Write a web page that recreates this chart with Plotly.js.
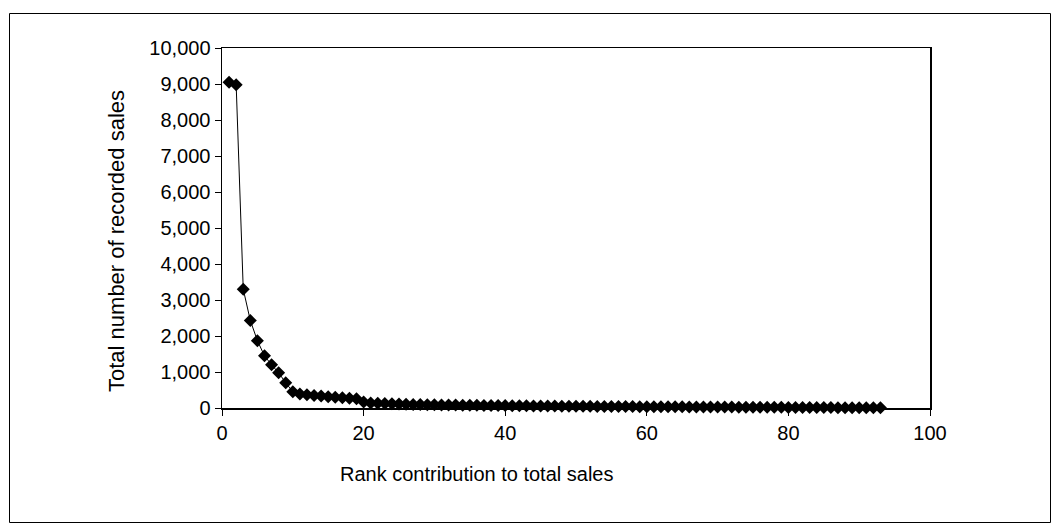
<!DOCTYPE html>
<html>
<head>
<meta charset="utf-8">
<script src="https://cdn.plot.ly/plotly-3.0.1.min.js"></script>
<style>
  html, body { margin: 0; padding: 0; background: #ffffff; }
  #chart { width: 1060px; height: 525px; }
</style>
</head>
<body>
<div id="chart"></div>
<script>
// Rank (1..93) of each item by contribution to total sales
const ranks = [
  1, 2, 3, 4, 5, 6, 7, 8, 9, 10,
  11, 12, 13, 14, 15, 16, 17, 18, 19, 20,
  21, 22, 23, 24, 25, 26, 27, 28, 29, 30,
  31, 32, 33, 34, 35, 36, 37, 38, 39, 40,
  41, 42, 43, 44, 45, 46, 47, 48, 49, 50,
  51, 52, 53, 54, 55, 56, 57, 58, 59, 60,
  61, 62, 63, 64, 65, 66, 67, 68, 69, 70,
  71, 72, 73, 74, 75, 76, 77, 78, 79, 80,
  81, 82, 83, 84, 85, 86, 87, 88, 89, 90,
  91, 92, 93
];
// Total number of recorded sales
const sales = [
  9050, 8980, 3300, 2430, 1870, 1450, 1200, 980, 700, 450,
  390, 370, 350, 330, 310, 300, 285, 270, 255, 170,
  140, 130, 122, 116, 110, 105, 100, 96, 92, 89,
  86, 83, 80, 78, 76, 74, 72, 70, 68, 66,
  64, 62, 60, 58, 56, 55, 53, 52, 50, 49,
  47, 46, 45, 44, 42, 41, 40, 39, 38, 37,
  36, 35, 34, 33, 32, 31, 30, 29, 28, 27,
  26, 25, 24, 23, 22, 21, 20, 19, 18, 17,
  16, 15, 14, 13, 12, 11, 10, 9, 8, 7,
  6, 5, 4
];
const xTitle = "Rank contribution to total sales";
const yTitle = "Total number of recorded sales";

const font = "Liberation Sans, Arial, sans-serif";

const trace = {
  x: ranks,
  y: sales,
  type: "scatter",
  mode: "lines+markers",
  line: { color: "#000000", width: 1 },
  marker: { symbol: "diamond", size: 10, color: "#000000" },
  cliponaxis: false,
  hoverinfo: "x+y"
};

const L = 222, R = 930, T = 48, B = 408;
const W = 1060, H = 525;
const pw = R - L, ph = B - T;
const px = (p) => (p - L) / pw;
const py = (p) => (B - p) / ph;

const layout = {
  width: W,
  height: H,
  margin: { l: L, r: W - R, t: T, b: H - B, pad: 0 },
  paper_bgcolor: "#ffffff",
  plot_bgcolor: "#ffffff",
  showlegend: false,
  font: { family: font, size: 20, color: "#000000" },
  xaxis: {
    range: [0, 100],
    tickvals: [0, 20, 40, 60, 80, 100],
    ticks: "outside",
    ticklen: 6,
    tickwidth: 1,
    tickcolor: "#000000",
    showline: true,
    linecolor: "#000000",
    linewidth: 1.5,
    mirror: true,
    showgrid: false,
    zeroline: false,
    tickfont: { family: font, size: 20, color: "#000000" }
  },
  yaxis: {
    range: [0, 10000],
    dtick: 1000,
    tick0: 0,
    tickformat: ",d",
    ticks: "outside",
    ticklen: 6,
    tickwidth: 1,
    tickcolor: "#000000",
    showline: true,
    linecolor: "#000000",
    linewidth: 1.5,
    mirror: true,
    showgrid: false,
    zeroline: false,
    tickfont: { family: font, size: 20, color: "#000000" }
  },
  annotations: [
    {
      text: xTitle, xref: "paper", yref: "paper",
      x: px(477), y: py(474), xanchor: "center", yanchor: "middle",
      showarrow: false, font: { family: font, size: 20, color: "#000000" }
    },
    {
      text: yTitle, xref: "paper", yref: "paper",
      x: px(116), y: py(241), xanchor: "center", yanchor: "middle",
      textangle: -90,
      showarrow: false, font: { family: font, size: 22, color: "#000000" }
    }
  ],
  shapes: [
    {
      type: "rect", xref: "paper", yref: "paper",
      x0: px(9.5), x1: px(1050.5), y0: py(522.5), y1: py(13.5),
      line: { color: "#000000", width: 1 },
      fillcolor: "rgba(0,0,0,0)",
      layer: "below"
    }
  ]
};

Plotly.newPlot("chart", [trace], layout, { staticPlot: true, displayModeBar: false });
</script>
</body>
</html>
